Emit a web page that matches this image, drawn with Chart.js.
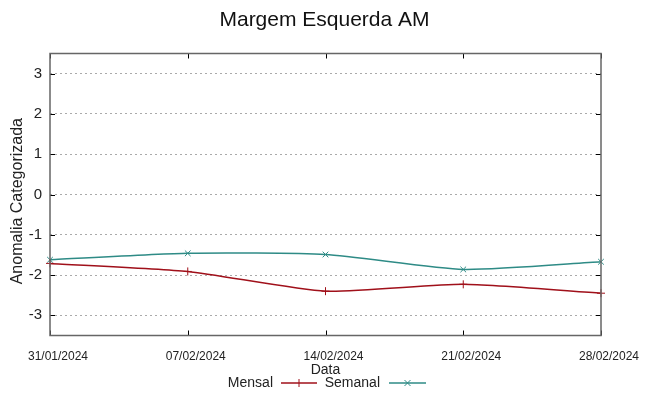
<!DOCTYPE html>
<html>
<head>
<meta charset="utf-8">
<script src="https://cdn.jsdelivr.net/npm/chart.js@4/dist/chart.umd.min.js"></script>
<style>
  html, body { margin: 0; padding: 0; background: #fff; }
  #wrap { width: 649px; height: 396px; }
</style>
</head>
<body>
<div id="wrap"><canvas id="chart" width="649" height="396"></canvas></div>
<script>
const dates = ['31/01/2024', '07/02/2024', '14/02/2024', '21/02/2024', '28/02/2024'];
const mensal = [-1.71, -1.91, -2.40, -2.23, -2.45];
const semanal = [-1.62, -1.46, -1.49, -1.86, -1.67];
const yTicks = [-3, -2, -1, 0, 1, 2, 3];

const FONT = "'Liberation Sans', Arial, sans-serif";
const RED = '#a0101a';
const TEAL = '#2e8b86';

// gnuplot-like frame with inward ticks on all four sides
const framePlugin = {
  id: 'frame',
  afterDraw(chart) {
    const { ctx, chartArea: a, scales } = chart;
    ctx.save();
    ctx.strokeStyle = '#000';
    ctx.lineWidth = 1;
    dates.forEach((d, i) => {
      const x = Math.round(scales.x.getPixelForValue(i)) + 0.5;
      ctx.beginPath();
      ctx.moveTo(x, a.bottom); ctx.lineTo(x, a.bottom - 5);
      ctx.moveTo(x, a.top); ctx.lineTo(x, a.top + 5);
      ctx.stroke();
    });
    yTicks.forEach(v => {
      const y = Math.round(scales.y.getPixelForValue(v)) + 0.5;
      ctx.beginPath();
      ctx.moveTo(a.left, y); ctx.lineTo(a.left + 5, y);
      ctx.moveTo(a.right, y); ctx.lineTo(a.right - 5, y);
      ctx.stroke();
    });
    ctx.strokeStyle = '#666';
    ctx.lineWidth = 1.5;
    ctx.strokeRect(a.left, a.top, a.right - a.left, a.bottom - a.top);

    // legend: text first, then sample line with marker
    const legendY = 383;
    const items = [{ textRight: 273, x0: 281, x1: 317 }, { textRight: 380, x0: 389, x1: 426 }];
    ctx.font = '14px ' + FONT;
    ctx.textAlign = 'right';
    ctx.textBaseline = 'middle';
    chart.data.datasets.forEach((ds, i) => {
      const it = items[i];
      ctx.fillStyle = '#222';
      ctx.fillText(ds.label, it.textRight, legendY);
      ctx.strokeStyle = ds.borderColor;
      ctx.lineWidth = 1.3;
      ctx.beginPath();
      ctx.moveTo(it.x0, legendY); ctx.lineTo(it.x1, legendY);
      ctx.stroke();
      const cx = (it.x0 + it.x1) / 2;
      ctx.beginPath();
      if (ds.pointStyle === 'cross') {
        ctx.moveTo(cx, legendY - 4); ctx.lineTo(cx, legendY + 4);
      } else {
        ctx.moveTo(cx - 3, legendY - 3); ctx.lineTo(cx + 3, legendY + 3);
        ctx.moveTo(cx - 3, legendY + 3); ctx.lineTo(cx + 3, legendY - 3);
      }
      ctx.lineWidth = 1;
      ctx.stroke();
    });
    ctx.restore();
  }
};

new Chart(document.getElementById('chart'), {
  type: 'line',
  data: {
    labels: dates,
    datasets: [
      {
        label: 'Mensal',
        data: mensal,
        borderColor: RED,
        backgroundColor: RED,
        borderWidth: 1.5,
        pointStyle: 'cross',
        pointRadius: 4,
        pointBorderWidth: 1,
        tension: 0.2,
        fill: false
      },
      {
        label: 'Semanal',
        data: semanal,
        borderColor: TEAL,
        backgroundColor: TEAL,
        borderWidth: 1.5,
        pointStyle: 'crossRot',
        pointRadius: 4,
        pointBorderWidth: 1,
        tension: 0.2,
        fill: false
      }
    ]
  },
  options: {
    responsive: false,
    animation: false,
    layout: { padding: 0 },
    plugins: {
      legend: { display: false },
      tooltip: { enabled: false },
      title: {
        display: true,
        text: 'Margem Esquerda AM',
        color: '#111',
        font: { family: FONT, size: 21, weight: 'normal' },
        padding: { top: 7.4, bottom: 20.9 }
      }
    },
    scales: {
      x: {
        type: 'category',
        offset: false,
        afterFit(scale) { scale.height = 60.5; },
        grid: { display: false, drawTicks: false },
        border: { display: false },
        ticks: {
          color: '#222',
          font: { family: FONT, size: 12 },
          padding: 14,
          labelOffset: 8,
          maxRotation: 0,
          autoSkip: false
        },
        title: {
          display: true,
          text: 'Data',
          color: '#222',
          font: { family: FONT, size: 14 },
          padding: { top: 0, bottom: 17 }
        }
      },
      y: {
        min: -3.5,
        max: 3.5,
        afterFit(scale) { scale.width = 50; },
        afterBuildTicks(scale) { scale.ticks = yTicks.map(v => ({ value: v })); },
        grid: {
          color: '#aaa',
          lineWidth: 1,
          drawTicks: false
        },
        border: { display: false, dash: [2, 3] },
        ticks: {
          color: '#222',
          font: { family: FONT, size: 15 },
          padding: 8
        },
        title: {
          display: true,
          text: 'Anomalia Categorizada   ',
          color: '#222',
          font: { family: FONT, size: 16 },
          padding: { top: 8.4, bottom: 0 }
        }
      },
      // empty right margin so the title centres on the whole canvas
      yRight: {
        position: 'right',
        min: -3.5,
        max: 3.5,
        afterFit(scale) { scale.width = 48; },
        grid: { display: false, drawTicks: false },
        border: { display: false },
        ticks: { display: false }
      }
    }
  },
  plugins: [framePlugin]
});
</script>
</body>
</html>
